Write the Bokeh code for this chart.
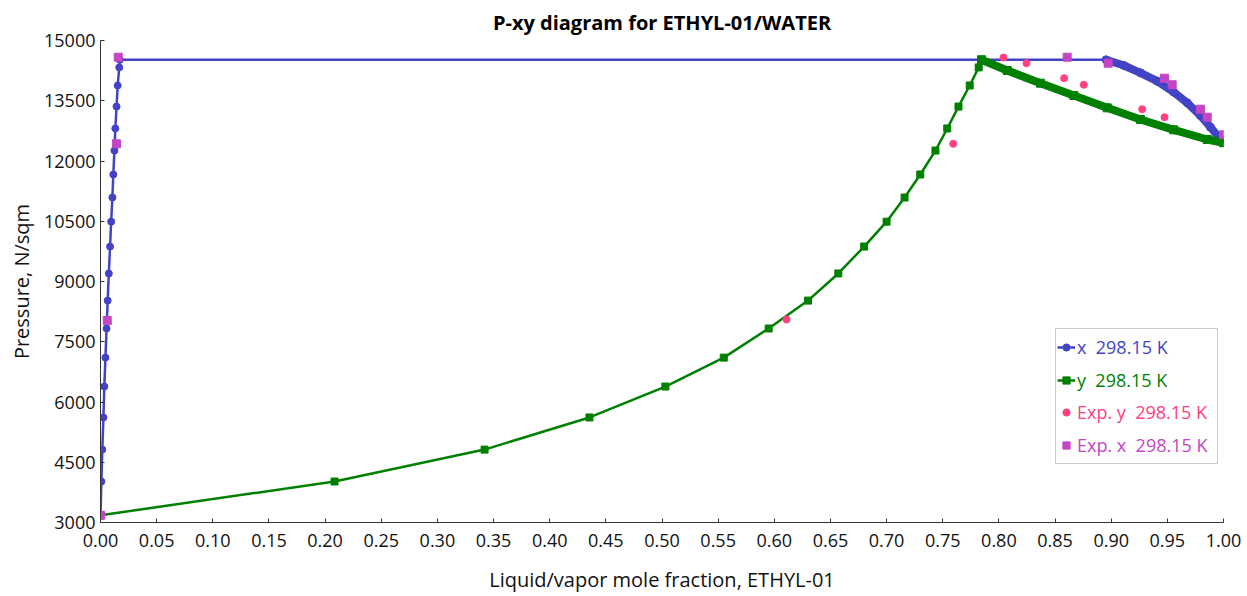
from bokeh.plotting import figure
from bokeh.models import Range1d, Legend, LegendItem, BoxAnnotation, FixedTicker, PrintfTickFormatter
from bokeh.embed import file_html
from bokeh.resources import INLINE

# ---- data ----
# VLE pressures (N/sqm) shared by liquid branch x and vapor branch y
p_vle = [3180, 4020, 4815, 5615, 6385, 7105, 7830, 8525, 9200, 9870, 10490,
         11090, 11665, 12260, 12810, 13355, 13880, 14330, 14520]
x_liq = [0.0, 0.0008, 0.0016, 0.0026, 0.0034, 0.0044, 0.0054, 0.0064, 0.0074,
         0.0085, 0.0095, 0.0106, 0.0114, 0.0124, 0.0132, 0.0143, 0.0153, 0.0167, 0.0172]
y_vap = [0.0, 0.2084, 0.342, 0.4354, 0.503, 0.555, 0.595, 0.630, 0.657, 0.680,
         0.700, 0.716, 0.730, 0.7435, 0.754, 0.764, 0.774, 0.782, 0.7845]
# organic-rich branch (densely computed)
x_org = [0.8955, 0.9113, 0.926, 0.941, 0.9557, 0.9677, 0.9795, 0.9884, 0.9958, 1.0]
p_x_org = [14520, 14378, 14195, 13987, 13713, 13449, 13132, 12841, 12592, 12455]
y_org = [0.7845, 0.8074, 0.837, 0.8667, 0.8964, 0.926, 0.9557, 0.9855, 1.0]
p_y_org = [14520, 14253, 13937, 13630, 13324, 13033, 12776, 12535, 12455]
# experimental data
exp_y = [0.0, 0.6109, 0.7593, 0.8041, 0.8246, 0.8581, 0.8756, 0.9276, 0.9475, 1.0]
exp_y_p = [3180, 8053, 12428, 14577, 14435, 14061, 13897, 13289, 13090, 12652]
exp_x = [0.0, 0.0060, 0.0142, 0.0158, 0.8608, 0.8973, 0.9475, 0.9543, 0.9795, 0.9855, 1.0]
exp_x_p = [3180, 8028, 12428, 14584, 14584, 14435, 14061, 13897, 13289, 13090, 12652]

x_ticks = [i * 0.05 for i in range(21)]
y_ticks = [3000, 4500, 6000, 7500, 9000, 10500, 12000, 13500, 15000]

BLUE = "#4343C6"
GREEN = "#008000"
PINK = "#FF4081"
MAGENTA = "#C446C4"
FONT = "Open Sans"

p = figure(width=1247, height=596, output_backend="svg", toolbar_location=None,
           x_range=Range1d(0, 1), y_range=Range1d(3000, 15000),
           min_border_left=100, min_border_right=24, min_border_top=40, min_border_bottom=74)
p.outline_line_color = None
p.xgrid.grid_line_color = None
p.ygrid.grid_line_color = None

p.title.text = "P-xy diagram for ETHYL-01/WATER"
p.title.align = "center"
p.title.text_font = FONT
p.title.text_font_size = "20px"
p.title.text_font_style = "bold"
p.title.text_color = "#000000"
p.title.standoff = 10

for ax in (p.xaxis[0], p.yaxis[0]):
    ax.axis_line_color = "#333333"
    ax.major_tick_line_color = "#333333"
    ax.major_tick_in = 4
    ax.major_tick_out = 0
    ax.minor_tick_line_color = None
    ax.major_label_text_font = FONT
    ax.major_label_text_font_size = "18px"
    ax.major_label_text_color = "#111111"
    ax.axis_label_text_font = FONT
    ax.axis_label_text_font_size = "20px"
    ax.axis_label_text_font_style = "normal"
    ax.axis_label_text_color = "#111111"

p.xaxis[0].ticker = FixedTicker(ticks=x_ticks)
p.yaxis[0].ticker = FixedTicker(ticks=y_ticks)
p.xaxis[0].formatter = PrintfTickFormatter(format="%.2f")
p.yaxis[0].formatter = PrintfTickFormatter(format="%d")
p.xaxis[0].axis_label = "Liquid/vapor mole fraction, ETHYL-01"
p.yaxis[0].axis_label = "Pressure, N/sqm"
p.xaxis[0].major_label_standoff = 11
p.xaxis[0].axis_label_standoff = 16
p.yaxis[0].major_label_standoff = 5
p.yaxis[0].axis_label_standoff = 6

# liquid (x) series: sparse branch + tie line + dense organic branch
x_all = x_liq + x_org
p_x_all = p_vle + p_x_org
lx = p.line(x_all, p_x_all, line_color=BLUE, line_width=2.5)
p.line(x_org, p_x_org, line_color=BLUE, line_width=8)
sx = p.scatter(x_liq, p_vle, marker="circle", size=7, fill_color=BLUE, line_color=BLUE)
p.scatter(x_org, p_x_org, marker="circle", size=8, fill_color=BLUE, line_color=BLUE)

# vapor (y) series
y_all = y_vap + y_org
p_y_all = p_vle + p_y_org
ly = p.line(y_all, p_y_all, line_color=GREEN, line_width=2.5)
p.line(y_org, p_y_org, line_color=GREEN, line_width=8)
sy = p.scatter(y_vap, p_vle, marker="square", size=7, fill_color=GREEN, line_color=GREEN)
p.scatter(y_org, p_y_org, marker="square", size=8, fill_color=GREEN, line_color=GREEN)

# experimental
ey = p.scatter(exp_y, exp_y_p, marker="circle", size=7, fill_color=PINK, line_color=PINK)
ex = p.scatter(exp_x, exp_x_p, marker="square", size=8, fill_color=MAGENTA, line_color=MAGENTA)

# legend box
p.add_layout(BoxAnnotation(left=955, right=1117, bottom=59, top=194,
                           left_units="screen", right_units="screen",
                           bottom_units="screen", top_units="screen",
                           fill_color="white", fill_alpha=1.0,
                           line_color="#555555", line_width=1, level="overlay"))

entries = [("x  298.15 K", [lx, sx], BLUE, 163),
           ("y  298.15 K", [ly, sy], GREEN, 130),
           ("Exp. y  298.15 K", [ey], PINK, 98),
           ("Exp. x  298.15 K", [ex], MAGENTA, 65)]
for label, rends, col, yb in entries:
    lg = Legend(items=[LegendItem(label=label, renderers=rends)], location=(957, yb),
                padding=0, margin=0, spacing=0, glyph_width=18, glyph_height=20,
                label_standoff=2, label_height=20,
                border_line_alpha=0, background_fill_alpha=0,
                label_text_font=FONT, label_text_font_size="18px", label_text_color=col)
    p.add_layout(lg)

open("out.html", "w").write(file_html(p, INLINE))
